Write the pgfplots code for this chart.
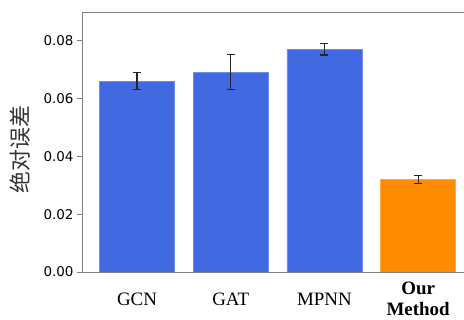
\documentclass[border=0pt]{standalone}
\usepackage{pgfplots}
\pgfplotsset{compat=1.18}
\usepackage{fontspec}
\setmainfont{Liberation Serif}
\newfontfamily\dejavu{DejaVu Sans}
\newfontfamily\cjk{Noto Sans CJK SC}
\definecolor{royal}{RGB}{65,105,225}
\definecolor{dorange}{RGB}{255,140,0}
\definecolor{spine}{RGB}{128,128,128}
\begin{document}
\begin{tikzpicture}
\useasboundingbox (0,0) rectangle (464bp,320bp);
\begin{axis}[
  at={(82bp,48bp)}, anchor=south west,
  scale only axis, width=383bp, height=260bp,
  xmin=-0.587, xmax=3.5, ymin=0, ymax=0.09,
  ybar, bar width=0.8, bar shift=0pt,
  xtick={0,1,2,3},
  xticklabels={GCN,GAT,MPNN,{\textbf{Our}\\\textbf{Method}}},
  xtick style={draw=none},
  xticklabel style={font=\fontsize{19}{21}\selectfont, align=center, anchor=center, yshift=-22bp},
  ytick={0,0.02,0.04,0.06,0.08},
  scaled y ticks=false,
  yticklabel style={font=\dejavu\fontsize{13.5}{15}\selectfont, /pgf/number format/fixed, /pgf/number format/precision=2, /pgf/number format/fixed zerofill, /pgf/number format/assume math mode=true},
  ytick pos=left, tick align=outside, major tick length=5bp,
  ytick style={spine, line width=0.8pt},
  axis line style={spine, line width=0.8pt},
  ylabel={\cjk 绝对误差},
  ylabel style={font=\fontsize{22}{24}\selectfont, at={(axis description cs:-0.162,0.47)}, anchor=center, text=black!80},
  error bars/error bar style={line width=1.2pt, black!85},
  error bars/error mark options={rotate=90, mark size=4bp, line width=1.2pt, black!85},
]
\addplot[fill=royal, draw=royal!75!white, line width=0.8pt,
  error bars/.cd, y dir=both, y explicit]
  coordinates {(0,0.0661) +- (0,0.003) (1,0.0692) +- (0,0.0061) (2,0.0771) +- (0,0.0020)};
\addplot[fill=dorange, draw=dorange!75!white, line width=0.8pt,
  error bars/.cd, y dir=both, y explicit]
  coordinates {(3,0.0321) +- (0,0.0014)};
\end{axis}
\end{tikzpicture}
\end{document}
